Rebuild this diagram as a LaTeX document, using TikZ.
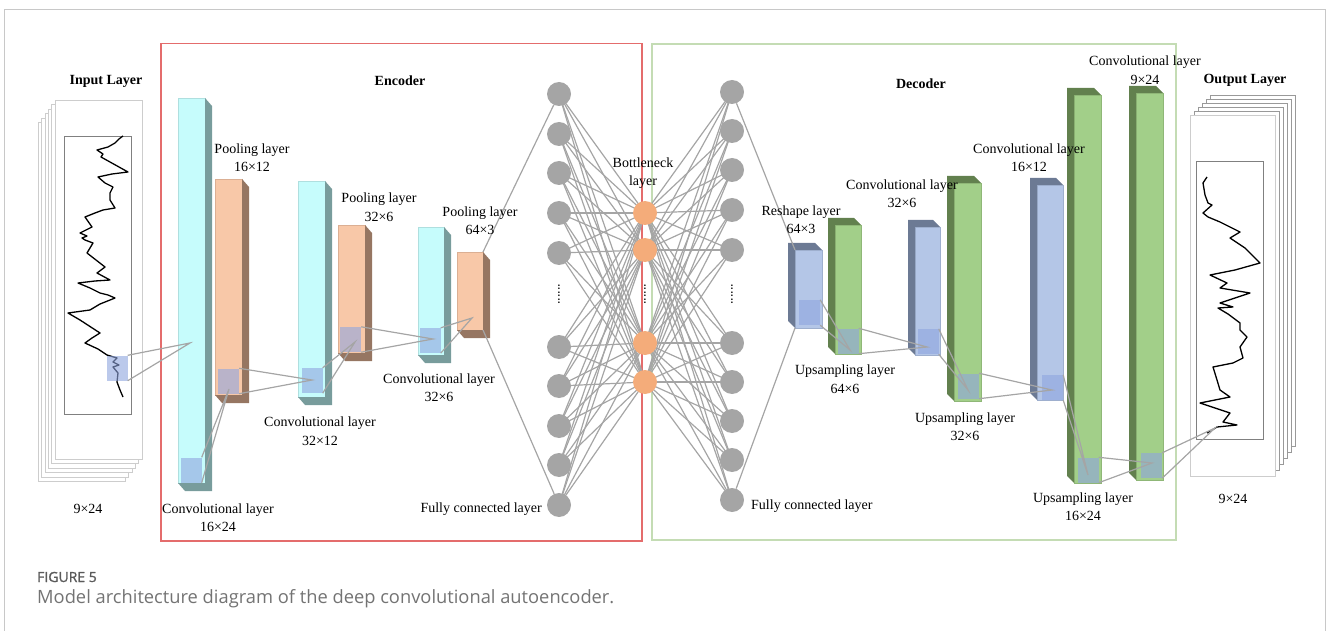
\documentclass[tikz,border=0pt]{standalone}
\usepackage{fontspec}
\setmainfont{Liberation Serif}
\newfontfamily\capfont{Open Sans}
\newfontfamily\capbold[FakeBold=1.2]{Open Sans}
\usetikzlibrary{fit, backgrounds}
\definecolor{cyF}{RGB}{198,252,252}
\definecolor{cyS}{RGB}{120,156,156}
\definecolor{saF}{RGB}{248,200,168}
\definecolor{saS}{RGB}{150,118,98}
\definecolor{blF}{RGB}{180,198,231}
\definecolor{blS}{RGB}{108,122,148}
\definecolor{grF}{RGB}{162,207,137}
\definecolor{grS}{RGB}{98,128,78}
\definecolor{hlC}{RGB}{143,165,223}
\definecolor{netG}{RGB}{165,165,165}
\definecolor{bnO}{RGB}{244,172,122}
\definecolor{encR}{RGB}{228,108,108}
\definecolor{decG}{RGB}{196,220,180}
\definecolor{frameG}{RGB}{200,200,200}
\definecolor{pageG}{RGB}{205,205,205}
\definecolor{plotG}{RGB}{128,128,128}
\definecolor{capG}{RGB}{90,90,90}

\begin{document}
\begin{tikzpicture}[x=1pt, y=-1pt,
  lbl/.style={font=\fontsize{14}{18.5}\selectfont, align=center, inner sep=0pt},
  head/.style={font=\fontsize{14}{17}\selectfont\bfseries, inner sep=0pt},
  face/.style={fill=#1F, draw=#1S!30!#1F, line width=0.5pt, inner sep=0pt, outer sep=0pt},
  hl/.style={fill=hlC, fill opacity=0.6, minimum width=21pt, minimum height=25pt, inner sep=0pt},
  neuron/.style={circle, fill=#1, minimum size=24pt, inner sep=0pt},
  link/.style={draw=netG, line width=1.2pt},
  page/.style={fill=white, draw=pageG, line width=0.8pt},
  sig/.style={line width=1.3pt, line join=round}
]
\useasboundingbox (0,0) rectangle (1328,631);

% input stack
\foreach \i in {5,4,...,1}
  \draw[page] (55-3.3*\i,100+4.5*\i) rectangle (142-3.3*\i,459+4.5*\i);
\draw[page] (55,100) rectangle (142,459);
\draw[plotG, line width=0.8pt] (64,136) rectangle (131,414);
\draw[sig] plot coordinates {(123,136) (119,139) (115,143) (108,147) (97,150) (103,154)
  (101,157) (110,162) (128,172) (112,174) (98,177) (105,183) (113,187) (110,193) (110,200)
  (115,208) (103,210) (95,213) (85,217) (92,227) (80,233) (87,236) (82,238) (85,240)
  (93,243) (90,248) (87,253) (96,260) (105,267) (97,273) (110,280) (95,281) (78,283)
  (90,288) (100,293) (108,295) (115,298) (100,304) (90,310) (68,313) (80,320) (100,333)
  (92,338) (85,343) (98,349) (107,355) (117,358) (113,362) (119,365) (113,367) (118,373)
  (117,382) (120,390) (123,397)};

% output stack
\foreach \i in {5,4,...,1}
  \draw[page, draw=plotG!80] (1190+4*\i,115-4*\i) rectangle (1275+4*\i,476-6*\i);
\draw[page] (1190,115) rectangle (1275,476);
\draw[plotG, line width=0.8pt] (1196,161) rectangle (1263,439);
\draw[sig] plot coordinates {(1207,177) (1205,180) (1203,183) (1205,195) (1208,203)
  (1212,205) (1203,213) (1208,217) (1220,222) (1240,232) (1230,238) (1245,248) (1260,263)
  (1235,270) (1210,275) (1227,283) (1220,288) (1250,293) (1235,298) (1220,303) (1233,307)
  (1218,308) (1228,314) (1240,323) (1240,330) (1247,337) (1240,347) (1243,358) (1233,363)
  (1213,367) (1217,380) (1220,390) (1230,397) (1200,403) (1230,413) (1223,422) (1237,425)
  (1217,427) (1207,433)};

% encoder bars
\foreach \n/\xa/\ya/\xb/\yb/\c in {conv1/178/98/205/483/cy, pool1/215/179/242/395/sa,
    conv2/298/181/325/397/cy, pool2/338/225/365/353/sa, conv3/418/227/444/355/cy,
    pool3/457/252/483/330/sa}{
  \node[face=\c, fit={(\xa,\ya) (\xb,\yb)}] (\n) {};
  \fill[fill=\c S] (\n.north east) -- ++(7,8) -- ([shift={(7,8)}]\n.south east)
    -- ([shift={(7,8)}]\n.south west) -- (\n.south west) -- (\n.south east) -- cycle;
}

% decoder bars
\foreach \n/\xa/\ya/\xb/\yb/\c in {reshape/795/250/822/328/bl, up1/835/225/861/354/gr,
    dconv1/915/227/940/355/bl, up2/954/183/981/401/gr, dconv2/1037/185/1063/400/bl,
    up3/1074/95/1101/483/gr, dconv3/1136/93/1163/480/gr}{
  \node[face=\c, fit={(\xa,\ya) (\xb,\yb)}] (\n) {};
  \fill[fill=\c S] (\n.south west) -- ([shift={(-7,-7)}]\n.south west)
    -- ([shift={(-7,-7)}]\n.north west) -- ([shift={(-7,-7)}]\n.north east)
    -- (\n.north east) -- (\n.north west) -- cycle;
}

% receptive fields
\node[hl] (insq) at (117,368) {};
\node[hl] (e1sq) at (191,470) {};
\node[hl] (e2sq) at (228.5,381) {};
\node[hl] (e3sq) at (312,380.5) {};
\node[hl] (e4sq) at (350.5,339.5) {};
\node[hl] (e5sq) at (430,340.5) {};
\node[hl] (d1sq) at (809.5,312.5) {};
\node[hl] (d2sq) at (848,341) {};
\node[hl] (d3sq) at (928,341.5) {};
\node[hl] (d4sq) at (968.5,386) {};
\node[hl] (d5sq) at (1052.5,387.5) {};
\node[hl] (d6sq) at (1088,470) {};
\node[hl] (d7sq) at (1151.5,465.5) {};

\coordinate (t0) at (190,343);
\coordinate (t1) at (229,389);
\coordinate (t2) at (312,380);
\coordinate (t3) at (355,342);
\coordinate (t4) at (433,339);
\coordinate (t5) at (472,318);
\coordinate (u1) at (850,350);
\coordinate (u2) at (927,347);
\coordinate (u3) at (968,390);
\coordinate (u4) at (1052,390);
\coordinate (u5) at (1088,475);
\coordinate (u6) at (1152,463);
\coordinate (u7) at (1215,428);

\foreach \s/\t in {insq/t0, e1sq/t1, e2sq/t2, e3sq/t3, e4sq/t4, e5sq/t5, d1sq/u1,
    d2sq/u2, d3sq/u3, d4sq/u4, d5sq/u5, d6sq/u6, d7sq/u7}
  \draw[link] (\s.north east) -- (\t) -- (\s.south east);

% fully connected part
\foreach \y [count=\i] in {94,134,173,213,253,347,386,426,465,505}
  \node[neuron=netG] (ef\i) at (559,\y) {};
\foreach \y [count=\i] in {213,250,343,382}
  \node[neuron=bnO] (bn\i) at (645,\y) {};
\foreach \y [count=\i] in {92,131,170,210,250,343,382,421,460,500}
  \node[neuron=netG] (df\i) at (732,\y) {};
\foreach \x/\nm in {559/edots, 645/bdots, 732/ddots}
  \node[rotate=90, font=\fontsize{14}{14}\selectfont] (\nm) at (\x,294) {......};

\draw[link] (pool3.north east) -- (ef1);
\draw[link] (pool3.south east) -- (ef10);
\draw[link] (df1) -- (reshape.north west);
\draw[link] (df10) -- (reshape.south west);

\begin{scope}[on background layer]
  \draw[frameG, line width=0.9pt] (4.5,640) -- (4.5,9.5) -- (1325.5,9.5) -- (1325.5,640);
  \draw[encR, line width=1.1pt] (161,43.5) rectangle (642,541);
  \draw[decG, line width=1.1pt] (652,44) rectangle (1176,540);
  \foreach \i in {1,...,10}
    \foreach \j in {1,...,4}{
      \draw[link] (ef\i.center) -- (bn\j.center);
      \draw[link] (bn\j.center) -- (df\i.center);
    }
\end{scope}

% labels
\node[head] (tin)  at (106,81) {Input Layer};
\node[head] (tenc) at (400,81) {Encoder};
\node[head] (tdec) at (921,84) {Decoder};
\node[head] (tout) at (1245,80) {Output Layer};
\node[lbl] (lin)  at (88,509) {9×24};
\node[lbl] (lout) at (1233,499) {9×24};
\node[lbl] (lc1) at (218,517.5) {Convolutional layer\\16×24};
\node[lbl] (lp1) at (252,157.5) {Pooling layer\\16×12};
\node[lbl] (lc2) at (320,431) {Convolutional layer\\32×12};
\node[lbl] (lp2) at (379,207) {Pooling layer\\32×6};
\node[lbl] (lc3) at (439,387.5) {Convolutional layer\\32×6};
\node[lbl] (lp3) at (480,220.5) {Pooling layer\\64×3};
\node[lbl, anchor=east] (lfe) at (542,509) {Fully connected layer};
\node[lbl] (lbn) at (643,173) {Bottleneck\\layer};
\node[lbl, anchor=west] (lfd) at (751,506) {Fully connected layer};
\node[lbl] (lrs) at (801,219.5) {Reshape layer\\64×3};
\node[lbl] (lu1) at (845,379) {Upsampling layer\\64×6};
\node[lbl] (ld1) at (902,193.5) {Convolutional layer\\32×6};
\node[lbl] (lu2) at (965,426.5) {Upsampling layer\\32×6};
\node[lbl] (ld2) at (1029,157.5) {Convolutional layer\\16×12};
\node[lbl] (lu3) at (1083,506.5) {Upsampling layer\\16×24};
\node[lbl] (ld3) at (1145,70) {Convolutional layer\\9×24};

% caption
\node[anchor=west, inner sep=0pt, text=capG, font=\capbold\fontsize{14}{16}\selectfont]
  (figno) at (37,577) {FIGURE 5};
\node[anchor=west, inner sep=0pt, text=capG!85!white, font=\capfont\fontsize{18.3}{21}\selectfont]
  (cap) at (37,599) {Model architecture diagram of the deep convolutional autoencoder.};
\end{tikzpicture}
\end{document}
